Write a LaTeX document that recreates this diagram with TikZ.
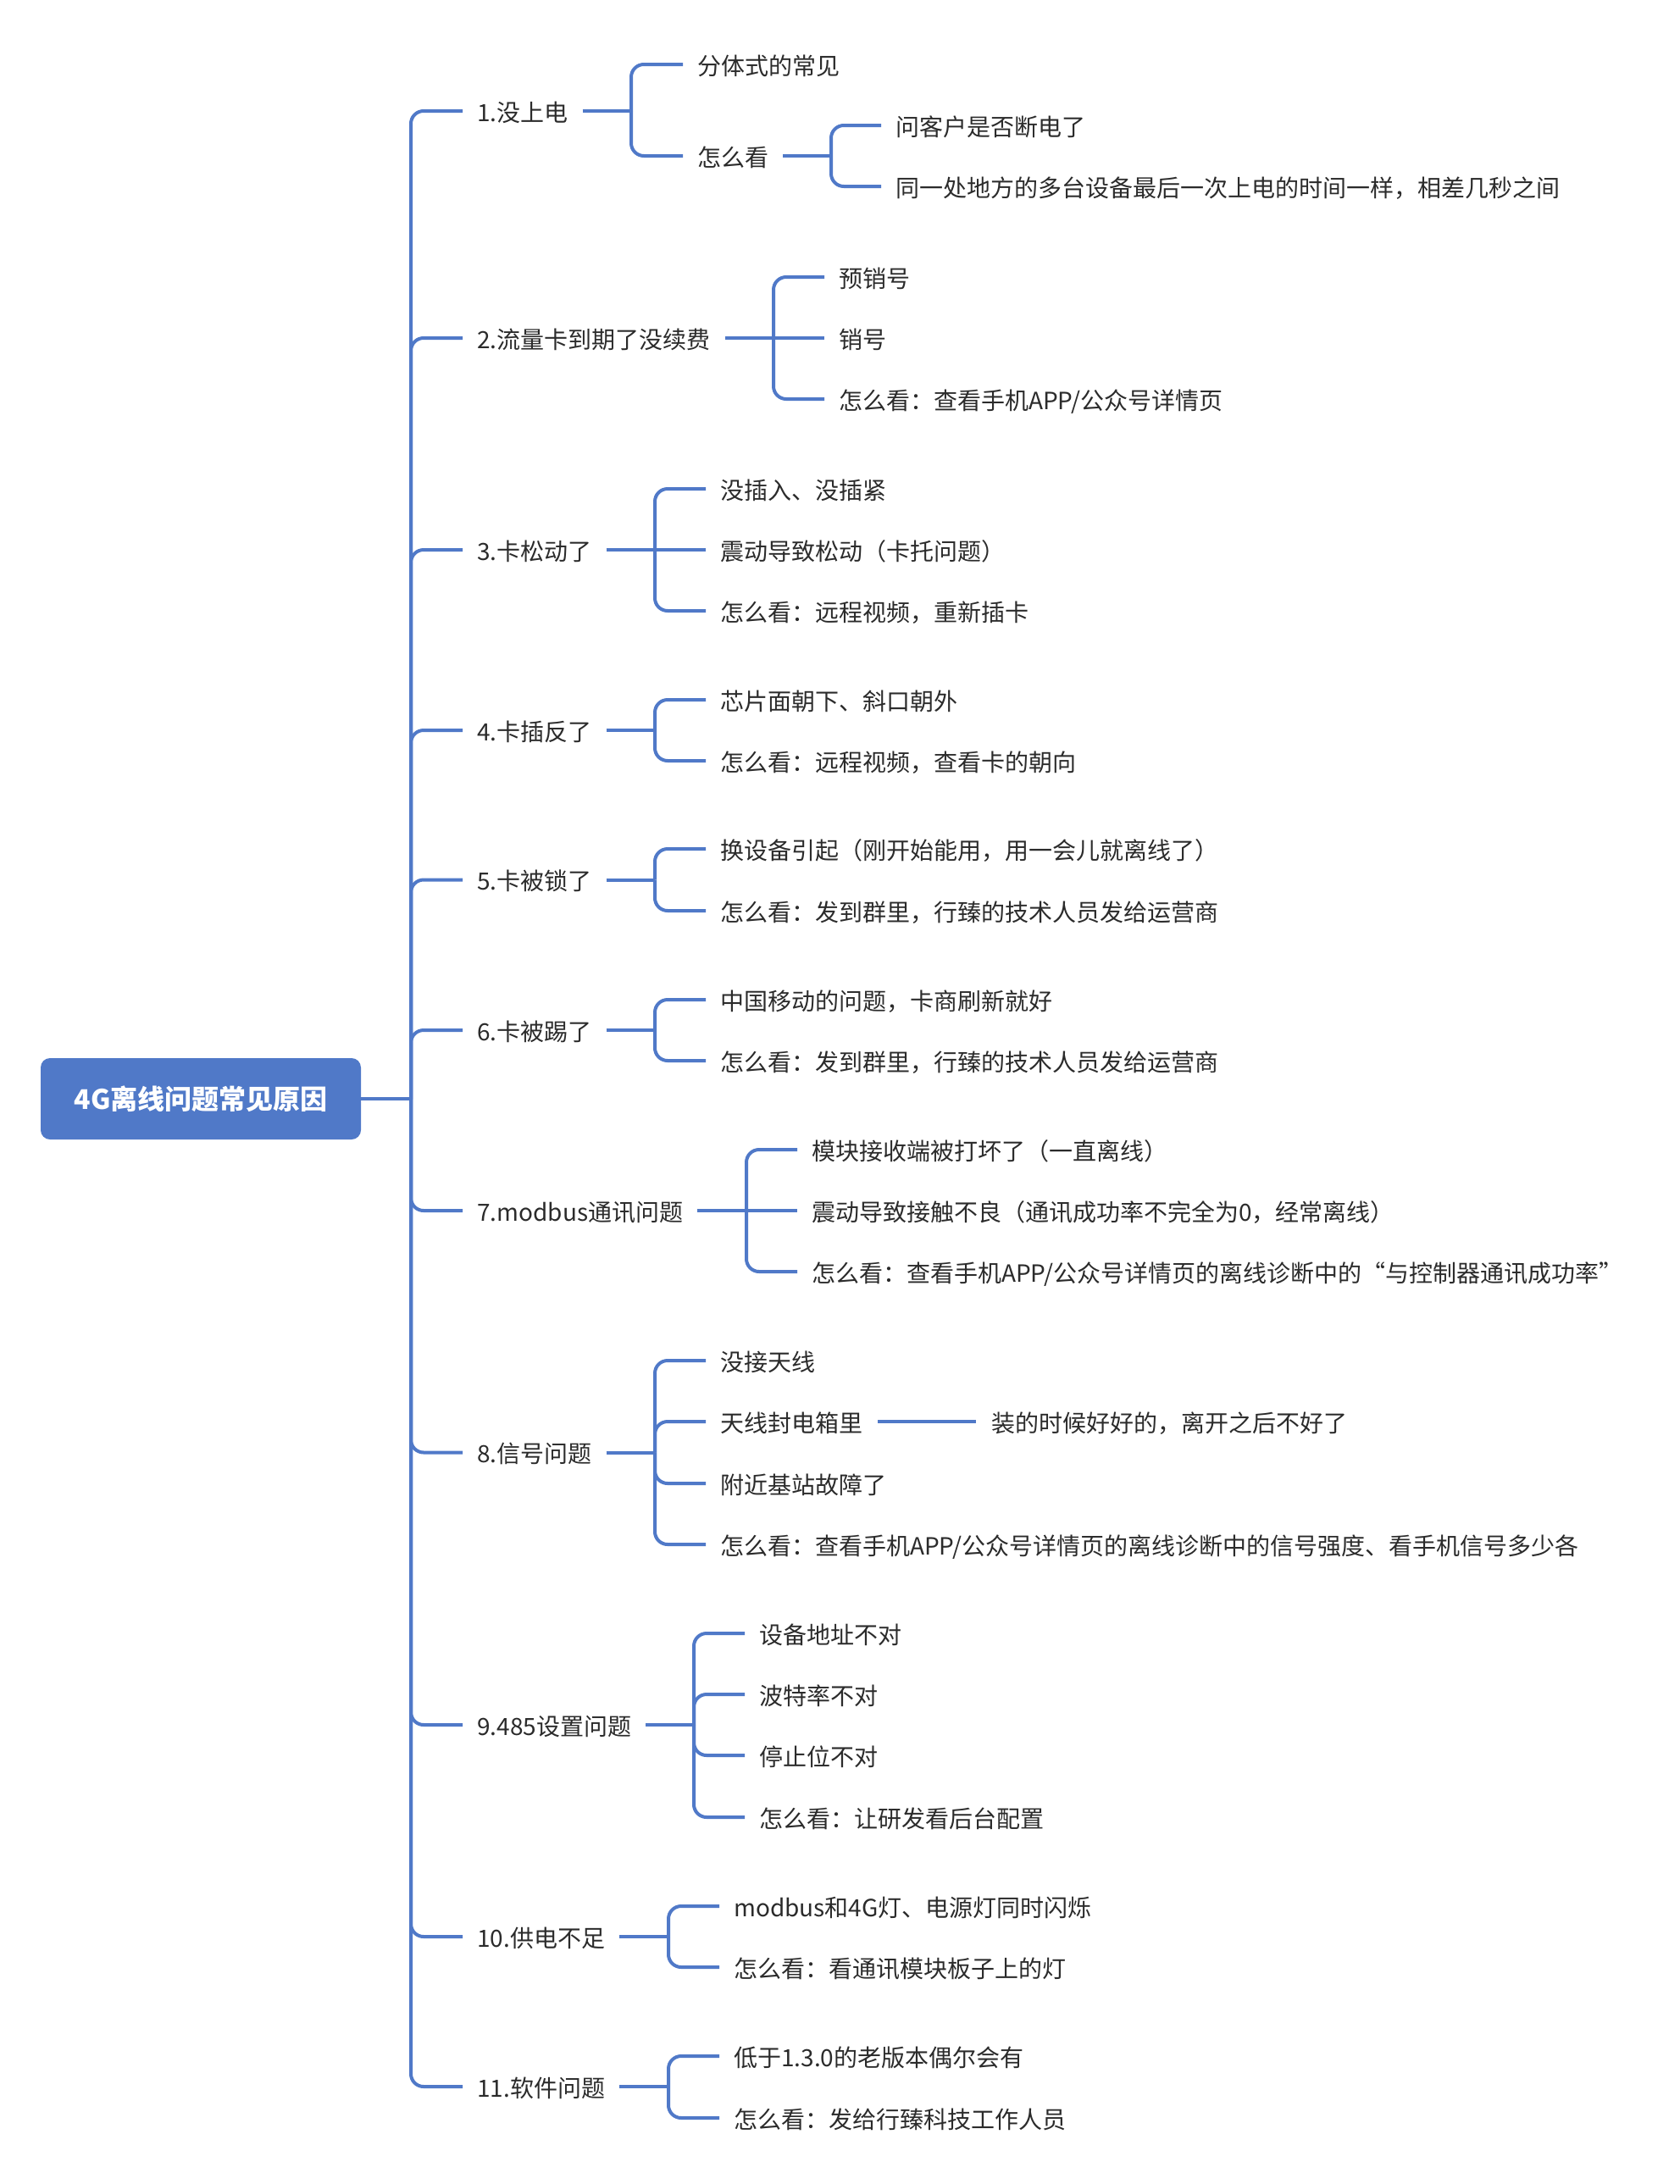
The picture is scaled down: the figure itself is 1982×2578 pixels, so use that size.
\documentclass[tikz,border=0pt]{standalone}
\usepackage{fontspec}
\setmainfont{Noto Sans CJK SC}
\definecolor{mblue}{HTML}{5079C8}
\definecolor{mtext}{HTML}{2B2B2B}
\tikzset{
  conn/.style={draw=mblue, line width=4pt, rounded corners=15pt},
  lbl/.style={anchor=west, inner sep=0pt, text=mtext, font=\fontsize{28}{34}\selectfont, text height=27.6pt, text depth=3.4pt},
  rootbox/.style={fill=mblue, draw=none, rounded corners=11pt, minimum width=378pt, minimum height=96pt, inner sep=0pt, text=white, font=\fontsize{32}{38}\selectfont\bfseries}
}
\begin{document}
\begin{tikzpicture}[x=1pt,y=-1pt]
\useasboundingbox (0,0) rectangle (1982,2578);
% root
\node[rootbox] (r) at (237,1297) {4G离线问题常见原因};
\coordinate (jr) at (485,1297);
% level 1
\node[lbl] (a1) at (563,131) {1.没上电};
\node[lbl] (a2) at (563,399) {2.流量卡到期了没续费};
\node[lbl] (a3) at (563,649) {3.卡松动了};
\node[lbl] (a4) at (563,862) {4.卡插反了};
\node[lbl] (a5) at (563,1038.5) {5.卡被锁了};
\node[lbl] (a6) at (563,1216) {6.卡被踢了};
\node[lbl] (a7) at (563,1429) {7.modbus通讯问题};
\node[lbl] (a8) at (563,1714.5) {8.信号问题};
\node[lbl] (a9) at (563,2036) {9.485设置问题};
\node[lbl] (a10) at (563,2286) {10.供电不足};
\node[lbl] (a11) at (563,2463) {11.软件问题};
% group 1
\node[lbl] (b11) at (823,76) {分体式的常见};
\node[lbl] (b12) at (823,184) {怎么看};
\node[lbl] (c121) at (1057,148) {问客户是否断电了};
\node[lbl] (c122) at (1057,220) {同一处地方的多台设备最后一次上电的时间一样，相差几秒之间};
\coordinate (j1) at (745,131);
\coordinate (j12) at (981,184);
% group 2
\node[lbl] (b21) at (990,327) {预销号};
\node[lbl] (b22) at (990,399) {销号};
\node[lbl] (b23) at (990,471) {怎么看：查看手机APP/公众号详情页};
\coordinate (j2) at (913,399);
% group 3
\node[lbl] (b31) at (850,577) {没插入、没插紧};
\node[lbl] (b32) at (850,649) {震动导致松动（卡托问题）};
\node[lbl] (b33) at (850,721) {怎么看：远程视频，重新插卡};
\coordinate (j3) at (773,649);
% group 4
\node[lbl] (b41) at (850,826) {芯片面朝下、斜口朝外};
\node[lbl] (b42) at (850,898) {怎么看：远程视频，查看卡的朝向};
\coordinate (j4) at (773,862);
% group 5
\node[lbl] (b51) at (850,1002) {换设备引起（刚开始能用，用一会儿就离线了）};
\node[lbl] (b52) at (850,1075) {怎么看：发到群里，行臻的技术人员发给运营商};
\coordinate (j5) at (773,1038.5);
% group 6
\node[lbl] (b61) at (850,1180) {中国移动的问题，卡商刷新就好};
\node[lbl] (b62) at (850,1252) {怎么看：发到群里，行臻的技术人员发给运营商};
\coordinate (j6) at (773,1216);
% group 7
\node[lbl] (b71) at (958,1357) {模块接收端被打坏了（一直离线）};
\node[lbl] (b72) at (958,1429) {震动导致接触不良（通讯成功率不完全为0，经常离线）};
\node[lbl] (b73) at (958,1501) {怎么看：查看手机APP/公众号详情页的离线诊断中的“与控制器通讯成功率”};
\coordinate (j7) at (881,1429);
% group 8
\node[lbl] (b81) at (850,1606) {没接天线};
\node[lbl] (b82) at (850,1678) {天线封电箱里};
\node[lbl] (b83) at (850,1751) {附近基站故障了};
\node[lbl] (b84) at (850,1823) {怎么看：查看手机APP/公众号详情页的离线诊断中的信号强度、看手机信号多少各};
\node[lbl] (c821) at (1170,1678) {装的时候好好的，离开之后不好了};
\coordinate (j8) at (773,1714.5);
% group 9
\node[lbl] (b91) at (896,1928) {设备地址不对};
\node[lbl] (b92) at (896,2000) {波特率不对};
\node[lbl] (b93) at (896,2072) {停止位不对};
\node[lbl] (b94) at (896,2145) {怎么看：让研发看后台配置};
\coordinate (j9) at (819,2036);
% group 10
\node[lbl] (b101) at (866,2250) {modbus和4G灯、电源灯同时闪烁};
\node[lbl] (b102) at (866,2322) {怎么看：看通讯模块板子上的灯};
\coordinate (j10) at (789,2286);
% group 11
\node[lbl] (b111) at (866,2427) {低于1.3.0的老版本偶尔会有};
\node[lbl] (b112) at (866,2500) {怎么看：发给行臻科技工作人员};
\coordinate (j11) at (789,2463);

% connectors: root -> level 1
\draw[conn] (r.east) -- (jr);
\foreach \n in {a1,a2,a3,a4,a5,a6,a7,a8,a9,a10,a11}
  \draw[conn] (jr) |- ([xshift=-17pt]\n.west);
% group 1
\draw[conn] ([xshift=17pt]a1.east) -- (j1);
\draw[conn] (j1) |- ([xshift=-17pt]b11.west);
\draw[conn] (j1) |- ([xshift=-17pt]b12.west);
\draw[conn] ([xshift=17pt]b12.east) -- (j12);
\draw[conn] (j12) |- ([xshift=-17pt]c121.west);
\draw[conn] (j12) |- ([xshift=-17pt]c122.west);
% group 2
\draw[conn] ([xshift=17pt]a2.east) -- (j2);
\draw[conn] (j2) |- ([xshift=-17pt]b21.west);
\draw[conn] (j2) -- ([xshift=-17pt]b22.west);
\draw[conn] (j2) |- ([xshift=-17pt]b23.west);
% group 3
\draw[conn] ([xshift=17pt]a3.east) -- (j3);
\draw[conn] (j3) |- ([xshift=-17pt]b31.west);
\draw[conn] (j3) -- ([xshift=-17pt]b32.west);
\draw[conn] (j3) |- ([xshift=-17pt]b33.west);
% group 4
\draw[conn] ([xshift=17pt]a4.east) -- (j4);
\draw[conn] (j4) |- ([xshift=-17pt]b41.west);
\draw[conn] (j4) |- ([xshift=-17pt]b42.west);
% group 5
\draw[conn] ([xshift=17pt]a5.east) -- (j5);
\draw[conn] (j5) |- ([xshift=-17pt]b51.west);
\draw[conn] (j5) |- ([xshift=-17pt]b52.west);
% group 6
\draw[conn] ([xshift=17pt]a6.east) -- (j6);
\draw[conn] (j6) |- ([xshift=-17pt]b61.west);
\draw[conn] (j6) |- ([xshift=-17pt]b62.west);
% group 7
\draw[conn] ([xshift=17pt]a7.east) -- (j7);
\draw[conn] (j7) |- ([xshift=-17pt]b71.west);
\draw[conn] (j7) -- ([xshift=-17pt]b72.west);
\draw[conn] (j7) |- ([xshift=-17pt]b73.west);
% group 8
\draw[conn] ([xshift=17pt]a8.east) -- (j8);
\draw[conn] (j8) |- ([xshift=-17pt]b81.west);
\draw[conn] (j8) |- ([xshift=-17pt]b82.west);
\draw[conn] (j8) |- ([xshift=-17pt]b83.west);
\draw[conn] (j8) |- ([xshift=-17pt]b84.west);
\draw[conn] ([xshift=18pt]b82.east) -- ([xshift=-18pt]c821.west);
% group 9
\draw[conn] ([xshift=17pt]a9.east) -- (j9);
\draw[conn] (j9) |- ([xshift=-17pt]b91.west);
\draw[conn] (j9) |- ([xshift=-17pt]b92.west);
\draw[conn] (j9) |- ([xshift=-17pt]b93.west);
\draw[conn] (j9) |- ([xshift=-17pt]b94.west);
% group 10
\draw[conn] ([xshift=17pt]a10.east) -- (j10);
\draw[conn] (j10) |- ([xshift=-17pt]b101.west);
\draw[conn] (j10) |- ([xshift=-17pt]b102.west);
% group 11
\draw[conn] ([xshift=17pt]a11.east) -- (j11);
\draw[conn] (j11) |- ([xshift=-17pt]b111.west);
\draw[conn] (j11) |- ([xshift=-17pt]b112.west);
\end{tikzpicture}
\end{document}
